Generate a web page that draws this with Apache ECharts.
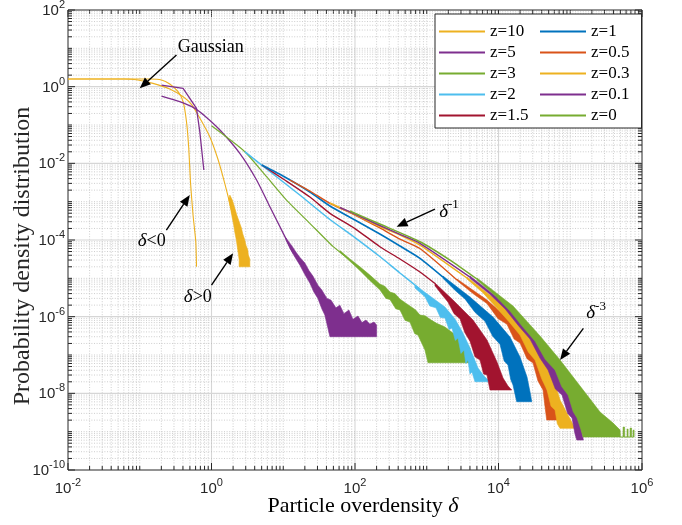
<!DOCTYPE html>
<html>
<head>
<meta charset="utf-8">
<script src="https://cdn.jsdelivr.net/npm/echarts@6/dist/echarts.min.js"></script>
<style>
  html, body { margin: 0; padding: 0; background: #ffffff; }
  #chart { width: 682px; height: 525px; }
</style>
</head>
<body>
<div id="chart"></div>
<script>
// ---- Legend names and colours (one per redshift) ----
const zLabels = ['z=10', 'z=5', 'z=3', 'z=2', 'z=1.5', 'z=1', 'z=0.5', 'z=0.3', 'z=0.1', 'z=0'];
const zColors = ['#EDB120', '#7E2F8E', '#77AC30', '#4DBEEE', '#A2142F', '#0072BD', '#D95319', '#EDB120', '#7E2F8E', '#77AC30'];

// ---- Axis tick exponents (labelled decades) ----
const xLabelExp = [-2, 0, 2, 4, 6];
const yLabelExp = [-10, -8, -6, -4, -2, 0, 2];

// ---- z = 10 : the two branches (delta<0 and delta>0) ----
const z10Neg = [[0.01, 1.58], [0.138, 1.58], [0.201, 1.49], [0.262, 1.17], [0.342, 0.74], [0.402, 0.405], [0.448, 0.122], [0.482, 0.0247], [0.509, 3.32e-3], [0.553, 4.49e-4], [0.604, 9.0e-5], [0.618, 2.0e-5]];
const z10Pos = [[0.01, 1.58], [0.0618, 1.58], [0.090, 1.52], [0.153, 1.22], [0.262, 0.869], [0.402, 0.547], [0.526, 0.347], [0.687, 0.152], [0.946, 0.0494], [1.24, 0.0122], [1.53, 3.01e-3], [1.80, 9.06e-4], [2.05, 3.32e-4]];
const tail10Upper = [[1.80, 1.49e-3], [1.95, 1.1e-3], [2.11, 6.8e-4], [2.25, 4.49e-4], [2.44, 2.94e-4], [2.61, 2.06e-4], [2.73, 1.43e-4], [2.91, 1.0e-4], [3.01, 7.4e-5], [3.21, 5.48e-5], [3.26, 4.06e-5], [3.42, 3.19e-5], [3.42, 2.0e-5]];
const tail10Lower = [[1.74, 1.1e-3], [1.86, 6.05e-4], [1.95, 3.74e-4], [2.05, 2.32e-4], [2.11, 1.61e-4], [2.22, 1.0e-4], [2.29, 6.56e-5], [2.37, 4.31e-5], [2.43, 3.0e-5], [2.43, 2.0e-5]];

// ---- z = 5 ----
const z5Neg = [[0.201, 1.10], [0.402, 0.906], [0.618, 0.272], [0.687, 0.0668], [0.782, 6.7e-3]];
const z5Pos = [[0.201, 0.570], [0.361, 0.405], [0.585, 0.272], [0.807, 0.172], [1.31, 0.074], [2.48, 0.0182], [4.25, 3.67e-3], [6.51, 7.4e-4], [10.0, 1.49e-4], [13.8, 4.5e-5]];
const tail5Upper = [[10.9, 1.13e-4], [13.2, 7.0e-5], [15.0, 4.85e-5], [17.1, 3.5e-5], [20.0, 2.51e-5], [22.8, 1.6e-5], [25.9, 1.15e-5], [30.4, 6.6e-6], [34.5, 4.95e-6], [40.6, 3.0e-6], [46.1, 2.72e-6], [54.2, 1.7e-6], [61.5, 2.0e-6], [70.0, 1.2e-6], [82.2, 1.49e-6], [93.5, 8.5e-7], [110, 1.04e-6], [125, 7.0e-7], [142, 8.17e-7], [161, 6.4e-7], [184, 7.25e-7], [200, 6.05e-7], [200, 3.0e-7]];
const tail5Lower = [[10.9, 1.0e-4], [12.4, 6.0e-5], [14.5, 3.6e-5], [17.1, 2.2e-5], [20.0, 1.25e-5], [23.5, 7.5e-6], [26.7, 4.4e-6], [30.4, 3.0e-6], [34.5, 1.6e-6], [38.0, 1.1e-6], [41.9, 5.06e-7], [44.7, 3.0e-7]];

// ---- z = 3 ----
const z3Line = [[1.0, 0.095], [2.91, 0.0201], [5.85, 4.48e-3], [11.1, 1.1e-3], [23.5, 2.72e-4], [49.7, 6.7e-5], [72.3, 3.82e-5]];
const tail3Upper = [[61.5, 5.3e-5], [84.9, 3.2e-5], [117, 2.0e-5], [161, 1.22e-5], [222, 7.1e-6], [260, 6.2e-6], [307, 4.4e-6], [360, 4.0e-6], [423, 2.88e-6], [500, 2.3e-6], [583, 1.9e-6], [700, 1.5e-6], [804, 1.10e-6], [950, 1.05e-6], [1109, 8.5e-7], [1374, 6.7e-7], [1795, 5.37e-7], [2344, 3.67e-7], [2904, 2.8e-7], [3606, 2.01e-7], [4008, 1.5e-7], [4008, 6.28e-8]];
const tail3Lower = [[61.5, 4.8e-5], [84.9, 2.8e-5], [117, 1.6e-5], [161, 8.8e-6], [222, 5.0e-6], [270, 3.0e-6], [307, 2.8e-6], [370, 1.6e-6], [423, 1.5e-6], [500, 8.0e-7], [583, 7.25e-7], [680, 3.6e-7], [754, 3.32e-7], [944, 1.35e-7], [1040, 6.28e-8]];

// ---- z = 2 ----
const z2Line = [[2.91, 0.0201], [6.50, 6.12e-3], [17.0, 1.49e-3], [44.7, 3.42e-4], [99.7, 1.16e-4], [222, 3.71e-5], [423, 1.38e-5], [804, 5.26e-6]];
const tail2Upper = [[685, 6.69e-6], [1108, 3.46e-6], [1794, 1.78e-6], [2474, 8.68e-7], [3198, 3.74e-7], [3878, 1.71e-7], [4552, 8.34e-8], [5178, 4.57e-8], [6277, 2.83e-8], [7610, 2.01e-8]];
const tail2Lower = [[685, 5.6e-6], [944, 3.3e-6], [1100, 1.9e-6], [1344, 1.7e-6], [1550, 9.5e-7], [1794, 9.2e-7], [2050, 4.6e-7], [2246, 5.05e-7], [2500, 2.4e-7], [2724, 2.77e-7], [3000, 1.1e-7], [3302, 1.35e-7], [3500, 6.0e-8], [3755, 7.39e-8], [4000, 3.2e-8], [4269, 3.59e-8], [4700, 2.01e-8]];

// ---- z = 1.5 ----
const z15Line = [[5.03, 9.04e-3], [10.5, 3.67e-3], [23.5, 1.32e-3], [44.7, 4.97e-4], [99.7, 1.99e-4], [222, 6.68e-5], [423, 3.19e-5], [804, 1.46e-5], [1302, 7.3e-6]];
const tail15Upper = [[1302, 7.54e-6], [2320, 2.72e-6], [4410, 8.17e-7], [6913, 2.46e-7], [9530, 6.56e-8], [11560, 2.51e-8], [13570, 1.55e-8], [15280, 1.22e-8]];
const tail15Lower = [[1302, 6.4e-6], [1600, 3.9e-6], [1976, 2.4e-6], [2400, 1.2e-6], [2904, 8.8e-7], [3400, 3.8e-7], [4005, 2.3e-7], [4700, 9.0e-8], [5521, 7.39e-8], [6200, 3.2e-8], [6913, 3.0e-8], [7610, 1.22e-8]];

// ---- z = 1 ----
const z1Line = [[5.03, 9.04e-3], [10.5, 4.40e-3], [23.5, 1.79e-3], [44.7, 7.70e-4], [99.7, 3.32e-4], [222, 1.43e-4], [423, 6.97e-5], [804, 3.33e-5], [1682, 1.08e-5]];
const tail1Upper = [[1682, 1.15e-5], [4005, 3.25e-6], [8381, 9.78e-7], [14470, 2.94e-7], [19950, 8.85e-8], [24970, 2.66e-8], [27500, 1.08e-8], [29040, 6.04e-9]];
const tail1Lower = [[1682, 1.0e-5], [2500, 4.8e-6], [3411, 2.9e-6], [4700, 1.3e-6], [6481, 7.6e-7], [8300, 3.1e-7], [10490, 1.9e-7], [12000, 7.0e-8], [13570, 5.47e-8], [14800, 2.3e-8], [15930, 1.65e-8], [17940, 6.04e-9]];

// ---- z = 0.5 ----
const z05Line = [[12.4, 3.67e-3], [23.5, 1.90e-3], [44.7, 9.06e-4], [99.7, 4.48e-4], [222, 2.06e-4], [423, 1.06e-4], [804, 5.99e-5], [2637, 9.04e-6]];
const tail05Upper = [[2637, 9.6e-6], [6913, 2.72e-6], [15930, 6.83e-7], [27500, 2.05e-7], [37920, 5.16e-8], [47460, 1.22e-8], [57560, 4.95e-9], [72080, 2.01e-9]];
const tail05Lower = [[2637, 8.8e-6], [4500, 3.9e-6], [6913, 2.2e-6], [9800, 9.0e-7], [13140, 6.3e-7], [16500, 2.6e-7], [19950, 2.05e-7], [25000, 8.0e-8], [30280, 6.17e-8], [35500, 2.1e-8], [41750, 1.22e-8], [44500, 4.5e-9], [47000, 2.01e-9]];

// ---- z = 0.3 ----
const z03Line = [[44.7, 9.22e-4], [99.7, 4.62e-4], [222, 2.25e-4], [423, 1.35e-4], [804, 7.40e-5], [3637, 1.02e-5]];
const tail03Upper = [[3637, 1.08e-5], [10490, 2.27e-6], [24970, 4.48e-7], [41750, 1.13e-7], [57560, 2.66e-8], [72080, 6.69e-9], [93180, 2.72e-9], [116700, 1.22e-9]];
const tail03Lower = [[3637, 9.6e-6], [6000, 4.3e-6], [8937, 1.9e-6], [14000, 7.4e-7], [19950, 3.3e-7], [26000, 1.2e-7], [32290, 7.39e-8], [40000, 2.4e-8], [47460, 1.22e-8], [54000, 4.6e-9], [61380, 3.67e-9], [66000, 1.6e-9], [72080, 1.22e-9]];

// ---- z = 0.1 ----
const z01Line = [[61.6, 7.04e-4], [99.7, 4.76e-4], [222, 2.39e-4], [423, 1.40e-4], [804, 8.19e-5], [4005, 1.08e-5]];
const tail01Upper = [[4005, 1.15e-5], [13140, 2.01e-6], [34440, 2.77e-7], [57560, 5.16e-8], [90240, 1.22e-8], [124400, 3.06e-9], [141500, 1.24e-9], [152300, 6.05e-10]];
const tail01Lower = [[4005, 1.0e-5], [7500, 3.9e-6], [12320, 1.6e-6], [19000, 5.8e-7], [27500, 2.6e-7], [38000, 8.2e-8], [49020, 4.06e-8], [62000, 1.3e-8], [76850, 9.03e-9], [92000, 3.0e-9], [105900, 2.27e-9], [116000, 9.0e-10], [123200, 6.05e-10]];

// ---- z = 0 ----
const z0Line = [[84.9, 5.70e-4], [99.7, 4.97e-4], [222, 2.61e-4], [804, 9.02e-5], [2107, 3.0e-5], [5013, 9.6e-6]];
const tail0Upper = [[5013, 1.02e-5], [15930, 1.9e-6], [37920, 3.13e-7], [72080, 7.39e-8], [137000, 1.55e-8], [260300, 3.25e-9], [395300, 1.68e-9], [495000, 1.10e-9], [500000, 7.24e-10], [545000, 7.24e-10], [545000, 1.32e-9], [571900, 1.32e-9], [571900, 7.24e-10], [619700, 7.24e-10], [619700, 1.17e-9], [639900, 1.17e-9], [639900, 7.24e-10], [682300, 7.24e-10], [682300, 1.24e-9], [716200, 1.24e-9], [716200, 7.24e-10], [751400, 7.24e-10], [751400, 1.10e-9], [776000, 1.10e-9], [776000, 7.24e-10]];
const tail0Lower = [[5013, 9.0e-6], [9000, 3.5e-6], [14470, 1.4e-6], [22000, 5.3e-7], [32290, 2.3e-7], [45000, 7.6e-8], [61380, 4.06e-8], [76000, 1.5e-8], [93180, 9.03e-9], [110000, 3.3e-9], [124400, 2.27e-9], [141500, 1.10e-9], [150800, 7.24e-10]];

// ---- Annotations (text, text centre, arrow tail, arrow head) ----
const noteTexts = ['Gaussian', 'δ<0', 'δ>0', 'δ^-1', 'δ^-3'];
const noteAt = [[0.977, 10.8], [0.147, 9.4e-5], [0.644, 3.25e-6], [2042, 5.37e-4], [229100, 1.24e-6]];
const arrowFrom = [[0.325, 6.70], [0.235, 1.82e-4], [1.0, 6.68e-6], [1301, 6.43e-4], [152300, 4.96e-7]];
const arrowTo = [[0.1, 0.906], [0.498, 1.49e-3], [2.0, 4.5e-5], [380, 2.22e-4], [72080, 7.39e-8]];

// ---------------------------------------------------------------
const X_MIN = 1e-2, X_MAX = 1e6, Y_MIN = 1e-10, Y_MAX = 1e2;
const SERIF = '"Liberation Serif", "Times New Roman", serif';
const SANS = '"Liberation Sans", Arial, Helvetica, sans-serif';
const AXIS_INK = '#262626';

// tick positions for log decades: 1..9 x 10^d, flagged as labelled or not
function decadeTicks(d0, d1, labelled) {
  const out = [];
  for (let d = d0; d <= d1; d++) {
    for (let k = 1; k <= 9; k++) {
      if (d === d1 && k > 1) break;
      const v = k * Math.pow(10, d);
      const major = (k === 1 && labelled.indexOf(d) >= 0) ? 1 : 0;
      out.push({ v: v, d: d, major: major });
    }
  }
  return out;
}
const xTicks = decadeTicks(-2, 6, xLabelExp);
const yTicks = decadeTicks(-10, 2, yLabelExp);

const majorGrid = { stroke: '#d6d6d6', lineWidth: 1.1 };
const minorGrid = { stroke: '#b9b9b9', lineWidth: 0.7, lineDash: [1, 1.6] };
const tickStyle = { stroke: AXIS_INK, lineWidth: 1 };
const tickRich = {
  b: { fontSize: 15, fontFamily: SANS, color: AXIS_INK, verticalAlign: 'middle' },
  s: { fontSize: 11, fontFamily: SANS, color: AXIS_INK, verticalAlign: 'middle', padding: [0, 0, 12, 0] }
};

// x-direction grid line, ticks on bottom/top, and label for labelled decades
function renderXDecor(params, api) {
  const v = api.value(0), major = api.value(2) === 1, d = api.value(3);
  const cs = params.coordSys;
  const x = api.coord([v, 1])[0];
  const top = cs.y, bot = cs.y + cs.height;
  const len = major ? 7 : 4;
  const kids = [];
  if (v > X_MIN && v < X_MAX) {
    kids.push({ type: 'line', shape: { x1: x, y1: top, x2: x, y2: bot }, style: major ? majorGrid : minorGrid });
  }
  kids.push({ type: 'line', shape: { x1: x, y1: bot, x2: x, y2: bot - len }, style: tickStyle });
  kids.push({ type: 'line', shape: { x1: x, y1: top, x2: x, y2: top + len }, style: tickStyle });
  if (major) {
    kids.push({ type: 'text', x: x, y: bot + 7, style: {
      text: '{b|10}{s|' + d + '}', rich: tickRich, align: 'center', verticalAlign: 'top', fill: AXIS_INK } });
  }
  return { type: 'group', children: kids };
}

// y-direction grid line, ticks on left/right, and label for labelled decades
function renderYDecor(params, api) {
  const v = api.value(1), major = api.value(2) === 1, d = api.value(3);
  const cs = params.coordSys;
  const y = api.coord([1, v])[1];
  const left = cs.x, right = cs.x + cs.width;
  const len = major ? 7 : 4;
  const kids = [];
  if (v > Y_MIN && v < Y_MAX) {
    kids.push({ type: 'line', shape: { x1: left, y1: y, x2: right, y2: y }, style: major ? majorGrid : minorGrid });
  }
  kids.push({ type: 'line', shape: { x1: left, y1: y, x2: left + len, y2: y }, style: tickStyle });
  kids.push({ type: 'line', shape: { x1: right, y1: y, x2: right - len, y2: y }, style: tickStyle });
  if (major) {
    kids.push({ type: 'text', x: left - 3, y: y + 1, style: {
      text: '{b|10}{s|' + d + '}', rich: tickRich, align: 'right', verticalAlign: 'middle', fill: AXIS_INK } });
  }
  return { type: 'group', children: kids };
}

function lineSeries(idx, data, width, smooth) {
  return {
    type: 'line', name: zLabels[idx], data: data, showSymbol: false, symbol: 'none',
    smooth: smooth, silent: true, animation: false, z: 2,
    lineStyle: { color: zColors[idx], width: width }, itemStyle: { color: zColors[idx] }
  };
}

// noisy tail: the band between its upper and lower envelopes
function tailSeries(idx, upper, lower) {
  const color = zColors[idx];
  return {
    type: 'custom', name: zLabels[idx], data: [upper[0]], silent: true, animation: false, z: 2,
    itemStyle: { color: color },
    renderItem: function (params, api) {
      const pts = upper.concat(lower.slice().reverse()).map(function (p) { return api.coord(p); });
      return { type: 'polygon', shape: { points: pts }, style: { fill: color, stroke: color, lineWidth: 0.6 } };
    }
  };
}

const series = [
  { type: 'custom', name: 'xgrid', silent: true, animation: false, z: 1,
    data: xTicks.map(function (t) { return [t.v, 1, t.major, t.d]; }), encode: { x: 0, y: 1 },
    renderItem: renderXDecor },
  { type: 'custom', name: 'ygrid', silent: true, animation: false, z: 1,
    data: yTicks.map(function (t) { return [1, t.v, t.major, t.d]; }), encode: { x: 0, y: 1 },
    renderItem: renderYDecor },
  lineSeries(0, z10Neg, 1.1, 0.2),
  lineSeries(0, z10Pos, 1.1, 0.2),
  tailSeries(0, tail10Upper, tail10Lower),
  lineSeries(1, z5Neg, 1.3, false),
  lineSeries(1, z5Pos, 1.3, 0.2),
  tailSeries(1, tail5Upper, tail5Lower),
  lineSeries(2, z3Line, 1.2, 0.2),
  tailSeries(2, tail3Upper, tail3Lower),
  lineSeries(3, z2Line, 1.5, 0.2),
  tailSeries(3, tail2Upper, tail2Lower),
  lineSeries(4, z15Line, 1.4, 0.2),
  tailSeries(4, tail15Upper, tail15Lower),
  lineSeries(5, z1Line, 1.6, 0.2),
  tailSeries(5, tail1Upper, tail1Lower),
  lineSeries(6, z05Line, 1.4, 0.2),
  tailSeries(6, tail05Upper, tail05Lower),
  lineSeries(7, z03Line, 1.5, 0.2),
  tailSeries(7, tail03Upper, tail03Lower),
  lineSeries(8, z01Line, 1.4, 0.2),
  tailSeries(8, tail01Upper, tail01Lower),
  lineSeries(9, z0Line, 1.5, 0.2),
  tailSeries(9, tail0Upper, tail0Lower)
];

const legendText = { fontFamily: SERIF, fontSize: 17, color: '#000', lineHeight: 17 };
const legendCommon = {
  orient: 'vertical', top: 23, itemWidth: 46, itemHeight: 2, itemGap: 4, icon: 'rect',
  textStyle: legendText, selectedMode: false, z: 5, padding: 0
};

const option = {
  animation: false,
  backgroundColor: '#ffffff',
  grid: { left: 68, top: 10, width: 574, height: 460, show: true, borderColor: AXIS_INK, borderWidth: 1, backgroundColor: '#ffffff' },
  xAxis: { type: 'log', logBase: 10, min: X_MIN, max: X_MAX,
    axisLine: { show: false }, axisTick: { show: false }, axisLabel: { show: false }, splitLine: { show: false } },
  yAxis: { type: 'log', logBase: 10, min: Y_MIN, max: Y_MAX,
    axisLine: { show: false }, axisTick: { show: false }, axisLabel: { show: false }, splitLine: { show: false } },
  legend: [
    Object.assign({ left: 439, data: zLabels.slice(0, 5) }, legendCommon),
    Object.assign({ left: 540, data: zLabels.slice(5) }, legendCommon)
  ],
  series: series
};

const chart = echarts.init(document.getElementById('chart'), null, { renderer: 'canvas' });
chart.setOption(option);

// ---- overlay: legend frame, axis titles, annotations with arrows ----
function toPx(p) { return chart.convertToPixel({ xAxisIndex: 0, yAxisIndex: 0 }, p); }

function arrowEls(from, to) {
  const a = toPx(from), b = toPx(to);
  const dx = b[0] - a[0], dy = b[1] - a[1], L = Math.hypot(dx, dy);
  const ux = dx / L, uy = dy / L, hl = 11, hw = 4.5;
  const base = [b[0] - ux * hl, b[1] - uy * hl];
  return [
    { type: 'line', z: 20, shape: { x1: a[0], y1: a[1], x2: base[0], y2: base[1] }, style: { stroke: '#000', lineWidth: 1.4 } },
    { type: 'polygon', z: 20, shape: { points: [b, [base[0] - uy * hw, base[1] + ux * hw], [base[0] + uy * hw, base[1] - ux * hw]] }, style: { fill: '#000' } }
  ];
}

const noteRich = {
  t: { fontFamily: SERIF, fontSize: 18, color: '#000', verticalAlign: 'middle' },
  d: { fontFamily: SERIF, fontSize: 19, fontStyle: 'italic', color: '#000', verticalAlign: 'middle' },
  s: { fontFamily: SERIF, fontSize: 13, color: '#000', verticalAlign: 'middle', padding: [0, 0, 14, 0] }
};
function noteMarkup(t) {
  if (t.indexOf('δ^') === 0) return '{d|δ}{s|' + t.slice(2) + '}';
  if (t.indexOf('δ') === 0) return '{d|δ}{t|' + t.slice(1) + '}';
  return '{t|' + t + '}';
}

const overlay = [
  { type: 'rect', z: 3, shape: { x: 435, y: 14, width: 206.5, height: 114 }, style: { fill: '#ffffff', stroke: AXIS_INK, lineWidth: 1 } },
  { type: 'text', z: 20, x: 363, y: 506, style: {
      text: '{n|Particle overdensity }{d|δ}', align: 'center', verticalAlign: 'middle',
      rich: { n: { fontFamily: SERIF, fontSize: 22, color: AXIS_INK }, d: { fontFamily: SERIF, fontSize: 22, fontStyle: 'italic', color: AXIS_INK } } } },
  { type: 'text', z: 20, x: 23, y: 256, rotation: Math.PI / 2, style: {
      text: 'Probability density distribution', align: 'center', verticalAlign: 'middle',
      font: '24px ' + SERIF, fill: AXIS_INK } }
];
noteTexts.forEach(function (t, i) {
  const c = toPx(noteAt[i]);
  overlay.push({ type: 'text', z: 20, x: c[0], y: c[1], style: { text: noteMarkup(t), rich: noteRich, align: 'center', verticalAlign: 'middle', fill: '#000' } });
  arrowEls(arrowFrom[i], arrowTo[i]).forEach(function (e) { overlay.push(e); });
});

chart.setOption({ graphic: { elements: overlay } });
</script>
</body>
</html>
